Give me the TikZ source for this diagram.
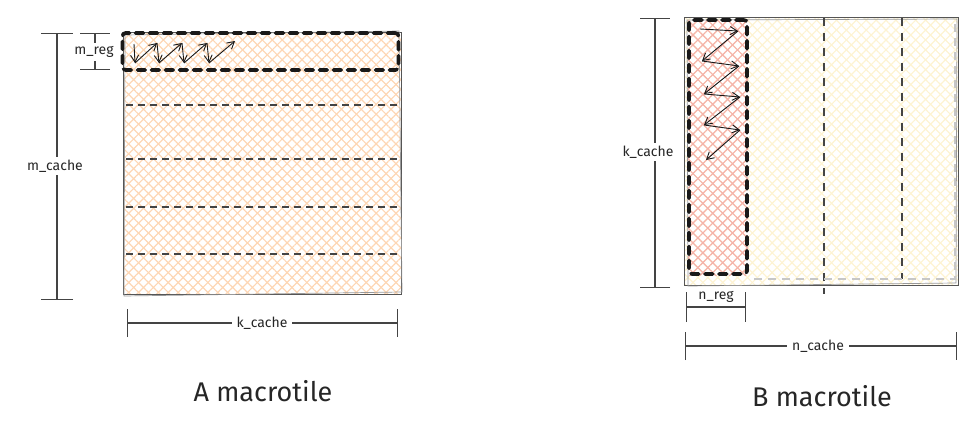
\documentclass[tikz,border=0pt]{standalone}
\usepackage{fontspec}
\setmainfont{Fira Sans}
\usetikzlibrary{patterns.meta,arrows.meta}
\definecolor{hatchA}{HTML}{FDD6B4}
\definecolor{hatchY}{HTML}{FDF3D2}
\definecolor{hatchR}{HTML}{F5B3AA}
\definecolor{edge}{HTML}{555555}
\definecolor{divline}{HTML}{444444}
\begin{document}
\begin{tikzpicture}[x=1pt,y=-1pt,
  crossfill/.style={preaction={pattern={Lines[angle=45,distance=7pt,line width=1.2pt]},pattern color=#1},
                    pattern={Lines[angle=-45,distance=7pt,line width=1.2pt]},pattern color=#1},
  tile/.style={draw=edge,line width=1pt,inner sep=0pt,outer sep=0pt},
  sketch/.style={draw=edge!60,line width=0.7pt},
  thickdash/.style={draw=black!90,line width=3.6pt,dash pattern=on 8pt off 6pt,line cap=round,rounded corners=3pt},
  divider/.style={draw=divline,line width=1.3pt,dash pattern=on 7pt off 5pt},
  faintdash/.style={draw=black!22,line width=1.8pt,dash pattern=on 8pt off 6pt},
  dimline/.style={draw=edge!80!black,line width=1.1pt},
  dimlabel/.style={fill=white,inner xsep=5pt,inner ysep=3pt,font=\fontsize{14}{15}\selectfont,text=black!85},
  title/.style={font=\fontsize{27}{29}\selectfont,text=black!85},
  zz/.style={draw=black!90,line width=0.9pt,-{Straight Barb[length=7pt,width=8pt]}}
]
\useasboundingbox (0,0) rectangle (974,431);

% ---------------- A macrotile ----------------
\node[tile,crossfill=hatchA,minimum width=278pt,minimum height=262pt] (A) at (262,163) {};
\draw[sketch] (125,35) -- (399,31) -- (402,292) -- (124,296) -- cycle;
\foreach \yy [count=\k] in {105,159,207,254}{
  \coordinate (dl\k) at (126,\yy);
  \coordinate (dr\k) at (398,\yy);
  \draw[divider] (dl\k) -- (dr\k);
}
\node[thickdash,minimum width=276pt,minimum height=37pt,inner sep=0pt] (Areg) at (260.5,51.5) {};

% zigzag in A
\foreach \px/\py [count=\k from 0] in {134/44,135/63,157/43,159/63,182/43,184/63,207/43,209/63,235/41}{
  \coordinate (az\k) at (\px,\py);
}
\foreach \i in {0,...,7}{
  \pgfmathtruncatemacro\j{\i+1}
  \draw[zz] (az\i) -- (az\j);
}

% dimensions A
\coordinate (mcT) at (57,33);
\coordinate (mcB) at (57,300);
\draw[dimline,{Bar[width=32pt]}-{Bar[width=32pt]}] (mcT) -- (mcB);
\node[dimlabel] (mcL) at (55,166) {m\_cache};

\coordinate (mrT) at (95,33);
\coordinate (mrB) at (95,70);
\draw[dimline,{Bar[width=30pt]}-{Bar[width=30pt]}] (mrT) -- (mrB);
\node[dimlabel,inner xsep=2pt] (mrL) at (94,52) {m\_reg};

\coordinate (kcL) at (127,323);
\coordinate (kcR) at (398,323);
\draw[dimline,{Bar[width=28pt]}-{Bar[width=28pt]}] (kcL) -- (kcR);
\node[dimlabel] (kcA) at (262,323) {k\_cache};

\node[title] (tA) at (263,391) {A macrotile};

% ---------------- B macrotile ----------------
\node[tile,crossfill=hatchY,minimum width=274pt,minimum height=268pt] (B) at (821.5,151) {};
\draw[sketch] (687,20) -- (957,19) -- (956,283) -- (688,286) -- cycle;
\node[inner sep=0pt,crossfill=hatchR,minimum width=60pt,minimum height=255pt] (Bcol) at (718,147.5) {};
\coordinate (v1T) at (824,18);
\coordinate (v1B) at (824,294);
\coordinate (v2T) at (902,18);
\coordinate (v2B) at (902,279);
\draw[divider,line width=1.8pt,dash pattern=on 8pt off 7pt] (v1T) -- (v1B);
\draw[divider,line width=1.8pt,dash pattern=on 8pt off 7pt] (v2T) -- (v2B);
\coordinate (gR1) at (955,24);
\coordinate (gR2) at (955,279);
\coordinate (gB1) at (750,279);
\draw[faintdash] (gR1) -- (gR2) -- (gB1);
\node[thickdash,minimum width=58pt,minimum height=254pt,inner sep=0pt] (Breg) at (718,147) {};

% zigzag in B
\foreach \px/\py [count=\k from 0] in {700/29,738/31,702/61,739/66,704/94,740/97,704/125,740/130,706/160}{
  \coordinate (bz\k) at (\px,\py);
}
\foreach \i in {0,...,7}{
  \pgfmathtruncatemacro\j{\i+1}
  \draw[zz] (bz\i) -- (bz\j);
}

% dimensions B
\coordinate (kbT) at (655,18);
\coordinate (kbB) at (655,288);
\draw[dimline,{Bar[width=30pt]}-{Bar[width=30pt]}] (kbT) -- (kbB);
\node[dimlabel,inner xsep=2pt] (kbL) at (648,152) {k\_cache};

\coordinate (nrL) at (686,307);
\coordinate (nrR) at (746,307);
\draw[dimline,{Bar[width=30pt]}-{Bar[width=30pt]}] (nrL) -- (nrR);
\node[dimlabel,fill=none] (nrT) at (716,297) {n\_reg};

\coordinate (ncL) at (685,346);
\coordinate (ncR) at (957,346);
\draw[dimline,{Bar[width=28pt]}-{Bar[width=28pt]}] (ncL) -- (ncR);
\node[dimlabel] (ncT) at (818,346) {n\_cache};

\node[title] (tB) at (822,396) {B macrotile};
\end{tikzpicture}
\end{document}
